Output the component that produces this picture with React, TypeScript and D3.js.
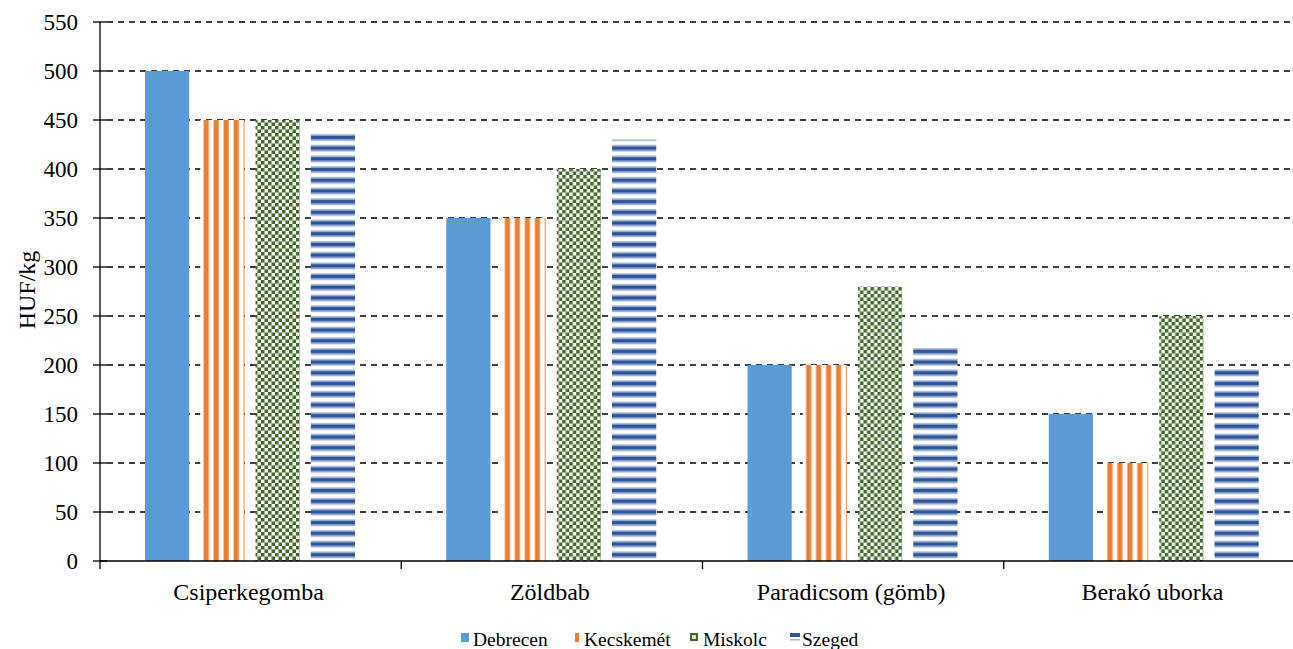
import React from "react";
import * as d3 from "d3";

const categories = ["Csiperkegomba", "Zöldbab", "Paradicsom (gömb)", "Berakó uborka"];
const seriesNames = ["Debrecen", "Kecskemét", "Miskolc", "Szeged"];
const debrecen = [500, 350, 200, 150];
const kecskemet = [450, 350, 200, 100];
const miskolc = [450, 400, 280, 250];
const szeged = [437, 430, 218, 197];
const yTicks = [0, 50, 100, 150, 200, 250, 300, 350, 400, 450, 500, 550];

const W = 1293;
const H = 649;
const left = 100;
const right = 1305;
const top = 22;
const bottom = 561;

export default function App() {
  const series = [debrecen, kecskemet, miskolc, szeged];
  const fills = ["#5b9bd5", "url(#pOrange)", "url(#pGreen)", "url(#pBlue)"];
  const y = d3.scaleLinear().domain([0, 550]).range([bottom, top]);
  const x0 = d3.scaleBand().domain(categories).range([left, right]).paddingInner(0).paddingOuter(0);
  const x1 = d3.scaleBand().domain(seriesNames).range([45, 255]).paddingInner(0.2);
  const font = "Liberation Serif, Times New Roman, DejaVu Serif, serif";
  const legendX = [461, 573, 690, 790];
  const legendTextX = [473, 584, 703, 802];
  return (
    <svg width={W} height={H} style={{ position: "absolute", left: 0, top: 0 }}>
      <defs>
        <pattern id="pOrange" patternUnits="userSpaceOnUse" width={10} height={10} x={203} y={0}>
          <rect width={10} height={10} fill="#fff" />
          <rect x={0} width={1} height={10} fill="#f8c8a4" />
          <rect x={1} width={4} height={10} fill="#ed7d31" />
          <rect x={5} width={1} height={10} fill="#f4a66e" />
        </pattern>
        <pattern id="pGreen" patternUnits="userSpaceOnUse" width={7} height={7}>
          <rect width={7} height={7} fill="#f4f7f0" />
          <rect x={0} y={0} width={3.5} height={3.5} fill="#43682b" />
          <rect x={3.5} y={3.5} width={3.5} height={3.5} fill="#43682b" />
        </pattern>
        <pattern id="pBlue" patternUnits="userSpaceOnUse" width={10} height={10.7} x={0} y={bottom}>
          <rect width={10} height={10.7} fill="#fff" />
          <rect y={1} width={10} height={1.5} fill="#b4c3e0" />
          <rect y={2.5} width={10} height={4} fill="#2f5597" />
          <rect y={6.5} width={10} height={1.5} fill="#9fb2d8" />
        </pattern>
      </defs>

      <g style={{ fontFamily: font }}>
        {/* gridlines */}
        {yTicks.filter((t) => t > 0).map((t) => (
          <line key={t} x1={left + 7} x2={1290} y1={y(t)} y2={y(t)} stroke="#000" strokeWidth={1.3} strokeDasharray="6,5" />
        ))}

        {/* bars */}
        {categories.map((c, ci) => (
          <g key={c} transform={`translate(${x0(c)},0)`}>
            {series.map((s, si) => (
              <rect
                key={si}
                x={x1(seriesNames[si])}
                y={y(s[ci])}
                width={x1.bandwidth()}
                height={bottom - y(s[ci])}
                fill={fills[si]}
              />
            ))}
          </g>
        ))}

        {/* y axis */}
        <line x1={left} x2={left} y1={top} y2={bottom} stroke="#000" strokeWidth={1.3} />
        {yTicks.map((t) => (
          <g key={t}>
            <line x1={left - 7} x2={left + 7} y1={y(t)} y2={y(t)} stroke="#000" strokeWidth={1.3} />
            <text x={left - 22} y={y(t) + 8} textAnchor="end" fontSize={23}>{t}</text>
          </g>
        ))}

        {/* x axis */}
        <line x1={left} x2={1293} y1={bottom} y2={bottom} stroke="#000" strokeWidth={1.3} />
        {categories.map((c) => (
          <g key={c}>
            <line x1={x0(c)} x2={x0(c)} y1={bottom} y2={bottom + 8} stroke="#000" strokeWidth={1.3} />
            <text x={(x0(c) as number) + x0.bandwidth() / 2 - 2} y={600} textAnchor="middle" fontSize={24}>{c}</text>
          </g>
        ))}

        <text transform={`translate(35,290) rotate(-90)`} textAnchor="middle" fontSize={24}>HUF/kg</text>

        {/* legend */}
        {seriesNames.map((n, i) => (
          <g key={n}>
            {i === 0 && <rect x={legendX[i]} y={633} width={8} height={9} fill="#5b9bd5" />}
            {i === 1 && <rect x={legendX[i] + 2} y={633} width={4} height={9} fill="#ed7d31" />}
            {i === 2 && (
              <g>
                <rect x={legendX[i]} y={633} width={8} height={8} fill="#43682b" />
                <rect x={legendX[i] + 2} y={635} width={4} height={4} fill="#d9e3cf" />
              </g>
            )}
            {i === 3 && (
              <g>
                <rect x={legendX[i]} y={633} width={10} height={4} fill="#2f5597" />
                <rect x={legendX[i]} y={639} width={10} height={1.5} fill="#9fb2d8" />
              </g>
            )}
            <text x={legendTextX[i]} y={646} fontSize={19.5}>{n}</text>
          </g>
        ))}
      </g>
    </svg>
  );
}
